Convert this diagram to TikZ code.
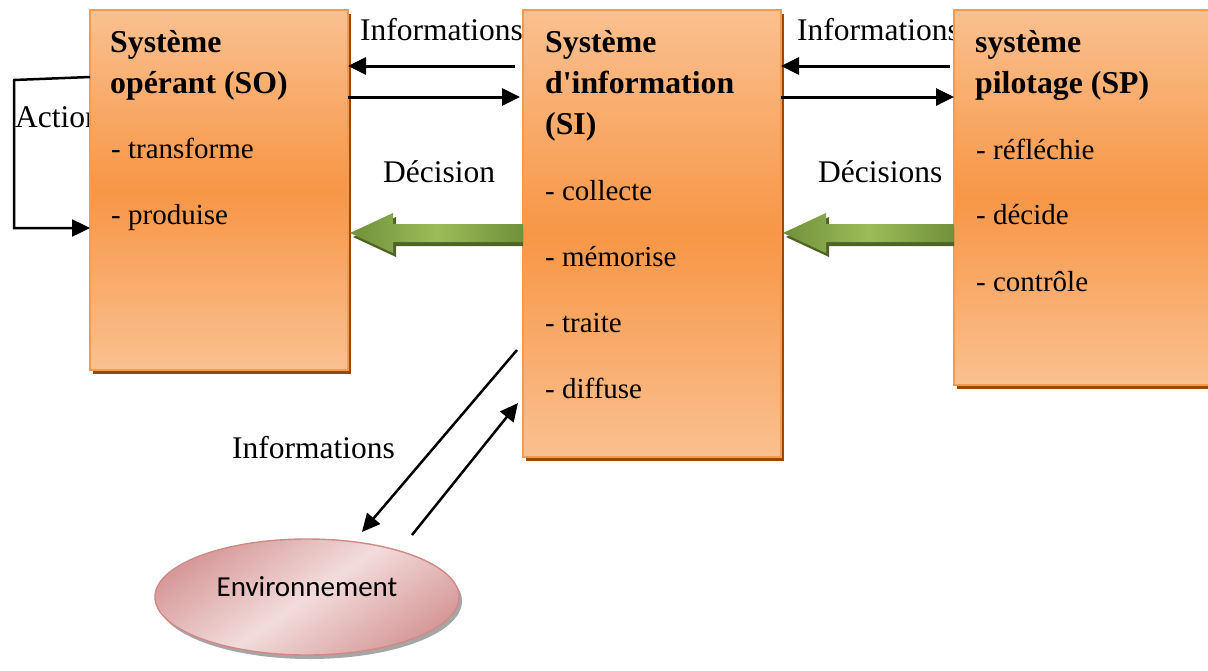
\documentclass[tikz,border=0pt]{standalone}
\usepackage{fontspec}
\setmainfont{Liberation Serif}
\newfontfamily\calibrifont{Carlito}
\usetikzlibrary{arrows.meta,shapes.geometric,shadows,calc}

\definecolor{boxlight}{HTML}{FAC090}
\definecolor{boxdark}{HTML}{F79646}
\definecolor{boxedge}{HTML}{F59A4E}
\definecolor{boxshadow}{HTML}{984807}
\definecolor{greendark}{HTML}{71903A}
\definecolor{greenlight}{HTML}{9CBC59}
\definecolor{greenshadow}{HTML}{4F6228}
\definecolor{pinkdark}{HTML}{D7999A}
\definecolor{pinklight}{HTML}{F2DCDB}
\definecolor{pinkedge}{HTML}{CF8A88}

\newcommand{\decisionarrow}[2]{%
  % shadow, then the shaded block arrow from #2 (tail) to #1 (tip)
  \fill[greenshadow] ($(#1)+(3,4)$) -- ($(#1)+(46,-16)$) -- ($(#1)+(46,-5)$)
     -- ($(#2)+(0,-5)$) -- ($(#2)+(0,13)$) -- ($(#1)+(46,13)$) -- ($(#1)+(46,24)$) -- cycle;
  \shade[left color=greendark, right color=greendark, middle color=greenlight]
     (#1) -- ($(#1)+(43,-20)$) -- ($(#1)+(43,-9)$) -- ($(#2)+(0,-9)$)
     -- ($(#2)+(0,9)$) -- ($(#1)+(43,9)$) -- ($(#1)+(43,20)$) -- cycle;
}

\begin{document}
\begin{tikzpicture}[x=1pt,y=-1pt,
  sysbox/.style={draw=boxedge, line width=1.6pt,
    top color=boxlight, bottom color=boxlight, middle color=boxdark,
    general shadow={fill=boxshadow, shadow xshift=3pt, shadow yshift=-4pt},
    anchor=north west, inner sep=0pt, outer sep=0pt},
  txt/.style={font=\fontsize{31.5}{38}\selectfont, anchor=base west, inner sep=0pt},
  item/.style={txt, font=\fontsize{29}{35}\selectfont},
  ttl/.style={txt, font=\fontsize{31.8}{38}\selectfont\bfseries},
  arr/.style={line width=3pt, -{Triangle[length=18pt,width=17pt]}},
  thinarr/.style={line width=2.5pt, -{Triangle[length=18pt,width=17pt]}},
  envell/.style={ellipse, draw=pinkedge, line width=1.4pt,
    left color=pinkdark, right color=pinkdark, middle color=pinklight,
    shading angle=35,
    general shadow={fill=black!35, shadow xshift=3pt, shadow yshift=-4pt},
    inner sep=0pt, outer sep=0pt}
]
\useasboundingbox (0,0) rectangle (1208,670);
\clip (0,0) rectangle (1208,670);

% labels partly covered by the boxes
\node[txt] (lbl-action) at (15,127) {Action};
\node[txt] (lbl-info-l) at (360,40) {Informations};
\node[txt] (lbl-info-r) at (797,40) {Informations};
\node[txt] (lbl-dec-l) at (383,182) {Décision};
\node[txt] (lbl-dec-r) at (818,182) {Décisions};
\node[txt] (lbl-info-env) at (232,458) {Informations};

% the three systems
\node[sysbox, minimum width=258pt, minimum height=360pt] (so) at (90,10) {};
\node[sysbox, minimum width=258pt, minimum height=447pt] (si) at (523,10) {};
\node[sysbox, minimum width=300pt, minimum height=375pt] (sp) at (954,10) {};

% système opérant
\node[ttl] (so-t1) at (110,52) {Système};
\node[ttl] (so-t2) at (110,93) {opérant (SO)};
\node[item] (so-i1) at (111,158) {- transforme};
\node[item] (so-i2) at (111,224) {- produise};

% système d'information
\node[ttl] (si-t1) at (545,52) {Système};
\node[ttl] (si-t2) at (545,93) {d\textquotesingle information};
\node[ttl] (si-t3) at (545,134) {(SI)};
\node[item] (si-i1) at (545,200) {- collecte};
\node[item] (si-i2) at (545,266) {- mémorise};
\node[item] (si-i3) at (545,332) {- traite};
\node[item] (si-i4) at (545,398) {- diffuse};

% système de pilotage
\node[ttl] (sp-t1) at (975,52) {système};
\node[ttl] (sp-t2) at (975,93) {pilotage (SP)};
\node[item] (sp-i1) at (976,159) {- réfléchie};
\node[item] (sp-i2) at (976,224) {- décide};
\node[item] (sp-i3) at (976,291) {- contrôle};

% environment
\node[envell, minimum width=304pt, minimum height=116pt] (env) at (307,597) {};
\node[inner sep=0pt, font=\calibrifont\fontsize{29}{34}\selectfont] (env-t) at (307,587) {Environnement};

% information flows between the boxes
\draw[arr, shorten <=8pt] (si.west |- 0,66) -- (so.east |- 0,66);
\draw[arr, shorten >=3pt] (so.east |- 0,97) -- (si.west |- 0,97);
\draw[arr, shorten <=4pt] (sp.west |- 0,66) -- (si.east |- 0,66);
\draw[arr] (si.east |- 0,97) -- (sp.west |- 0,97);

% action loop on the operating system
\coordinate (act-top) at (14,80);
\coordinate (act-bot) at (14,228);
\draw[thinarr] (so.west |- 0,77) -- (act-top) -- (act-bot) -- (so.west |- 0,228);

% decisions
\coordinate (dec1-tip) at ($(so.east |- 0,233)+(2,0)$);
\coordinate (dec1-end) at (si.west |- 0,233);
\coordinate (dec2-tip) at ($(si.east |- 0,233)+(2,0)$);
\coordinate (dec2-end) at (sp.west |- 0,233);
\decisionarrow{dec1-tip}{dec1-end}
\decisionarrow{dec2-tip}{dec2-end}

% exchanges with the environment
\coordinate (si-out) at ($(si.west |- 0,350)+(-6,0)$);
\coordinate (si-in) at ($(si.west |- 0,403)+(-5,0)$);
\coordinate (env-in) at (362,532);
\coordinate (env-out) at (412,535);
\draw[thinarr] (si-out) -- (env-in);
\draw[thinarr] (env-out) -- (si-in);
\end{tikzpicture}
\end{document}
